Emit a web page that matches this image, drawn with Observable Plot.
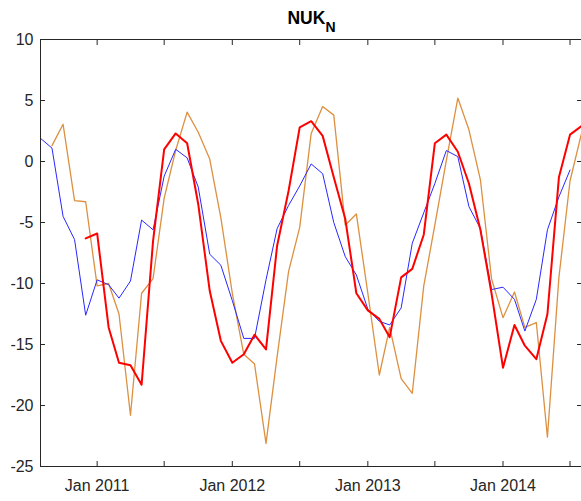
<!DOCTYPE html>
<html>
<head>
<meta charset="utf-8">
<script src="https://cdn.jsdelivr.net/npm/d3@7"></script>
<script src="https://cdn.jsdelivr.net/npm/@observablehq/plot@0.6"></script>
<style>
  html, body { margin: 0; padding: 0; background: #fff; }
  #chart { width: 581px; height: 501px; overflow: hidden; }
</style>
</head>
<body>
<div id="chart"></div>
<script>
// Monthly observations, Aug 2010 – Aug 2014
const months = [
  "2010-08","2010-09","2010-10","2010-11","2010-12",
  "2011-01","2011-02","2011-03","2011-04","2011-05","2011-06","2011-07","2011-08","2011-09","2011-10","2011-11","2011-12",
  "2012-01","2012-02","2012-03","2012-04","2012-05","2012-06","2012-07","2012-08","2012-09","2012-10","2012-11","2012-12",
  "2013-01","2013-02","2013-03","2013-04","2013-05","2013-06","2013-07","2013-08","2013-09","2013-10","2013-11","2013-12",
  "2014-01","2014-02","2014-03","2014-04","2014-05","2014-06","2014-07","2014-08"
];

// Thin blue series
const blueValues = [
  1.9, 1.1, -4.5, -6.4, -12.6,
  -9.7, -10.1, -11.2, -9.8, -4.8, -5.6, -1.2, 1.0, 0.3, -2.1, -7.6, -8.5,
  -11.4, -14.5, -14.5, -9.7, -5.5, -3.6, -2.0, -0.2, -1.0, -5.0, -7.8, -9.3,
  -12.1, -13.1, -13.4, -12.0, -6.7, -4.2, -1.8, 0.9, 0.4, -3.7, -5.5, -10.5,
  -10.3, -11.3, -13.9, -11.3, -5.6, -2.9, -0.7, null
];

// Thick red series
const redValues = [
  null, null, null, null, -6.3,
  -5.9, -13.6, -16.5, -16.7, -18.3, -6.5, 1.0, 2.3, 1.5, -3.5, -10.6, -14.7,
  -16.5, -15.8, -14.2, -15.4, -6.9, -2.4, 2.8, 3.3, 2.1, -1.3, -4.7, -10.8,
  -12.2, -12.9, -14.4, -9.5, -8.8, -6.0, 1.5, 2.2, 0.8, -1.8, -5.6, -10.8,
  -16.9, -13.4, -15.1, -16.2, -12.5, -1.3, 2.2, 2.9
];

// Thin orange series
const orangeValues = [
  null, 1.3, 3.05, -3.2, -3.3,
  -10.2, -10.0, -12.5, -20.8, -10.8, -9.6, -3.0, 0.9, 4.05, 2.4, 0.2, -4.6,
  -10.8, -15.8, -16.6, -23.1, -16.0, -9.0, -5.4, 2.3, 4.5, 3.8, -5.2, -4.3,
  -10.8, -17.5, -13.6, -17.8, -19.0, -10.2, -5.2, 0.1, 5.2, 2.6, -1.5, -9.6,
  -12.8, -10.7, -13.6, -13.2, -22.6, -9.5, -1.6, 2.3
];

const yTicks = [-25, -20, -15, -10, -5, 0, 5, 10];
const xTickMonths = ["2011-01","2011-07","2012-01","2012-07","2013-01","2013-07","2014-01","2014-07"];
const xDomainMonths = ["2010-08", "2014-08"];
const titleMain = "NUK";
const titleSub = "N";

const toDate = (s) => { const [y, m] = s.split("-").map(Number); return new Date(Date.UTC(y, m - 1, 1)); };
const monthNames = ["Jan","Feb","Mar","Apr","May","Jun","Jul","Aug","Sep","Oct","Nov","Dec"];

const rows = (values) => months.map((m, i) => ({date: toDate(m), value: values[i]}));
const blueRows = rows(blueValues);
const redRows = rows(redValues);
const orangeRows = rows(orangeValues);
const xTicks = xTickMonths.map(toDate);

const W = 581, H = 501;
const margin = {left: 40, right: 0, top: 39, bottom: 35};
const ink = "#262626";

const svg = Plot.plot({
  width: W,
  height: H,
  marginLeft: margin.left,
  marginRight: margin.right,
  marginTop: margin.top,
  marginBottom: margin.bottom,
  style: {
    fontFamily: "'Liberation Sans', Arial, Helvetica, sans-serif",
    fontSize: "16px",
    color: ink,
    background: "#fff",
    overflow: "visible"
  },
  x: {type: "utc", domain: xDomainMonths.map(toDate)},
  y: {domain: [-25, 10]},
  marks: [
    Plot.line(orangeRows, {x: "date", y: "value", stroke: "#dc9040", strokeWidth: 1.3}),
    Plot.line(blueRows, {x: "date", y: "value", stroke: "#2828ff", strokeWidth: 1}),
    Plot.line(redRows, {x: "date", y: "value", stroke: "#ff0000", strokeWidth: 2}),
    Plot.frame({stroke: ink, strokeWidth: 1}),
    Plot.axisY(yTicks, {anchor: "left", tickSize: -5, tickPadding: 12, label: null, tickFormat: d => String(d)}),
    Plot.axisY(yTicks, {anchor: "right", tickSize: -5, label: null, tickFormat: () => ""}),
    Plot.axisX(xTicks, {
      anchor: "bottom", tickSize: -5, tickPadding: 18, label: null,
      tickFormat: d => d.getUTCMonth() === 0 ? `${monthNames[0]} ${d.getUTCFullYear()}` : ""
    }),
    Plot.axisX(xTicks, {anchor: "top", tickSize: -5, label: null, tickFormat: () => ""})
  ]
});

// Bold title with a subscript, centred over the axes box
const cx = (margin.left + (W - margin.right)) / 2;
const title = d3.select(svg).append("text")
  .attr("x", cx + 1)
  .attr("y", 23.5)
  .attr("text-anchor", "middle")
  .attr("font-weight", "bold")
  .attr("font-size", 17.5)
  .attr("fill", "#000");
title.append("tspan").text(titleMain);
title.append("tspan").attr("dy", 8).attr("font-size", 14).text(titleSub);

document.getElementById("chart").appendChild(svg);
</script>
</body>
</html>
